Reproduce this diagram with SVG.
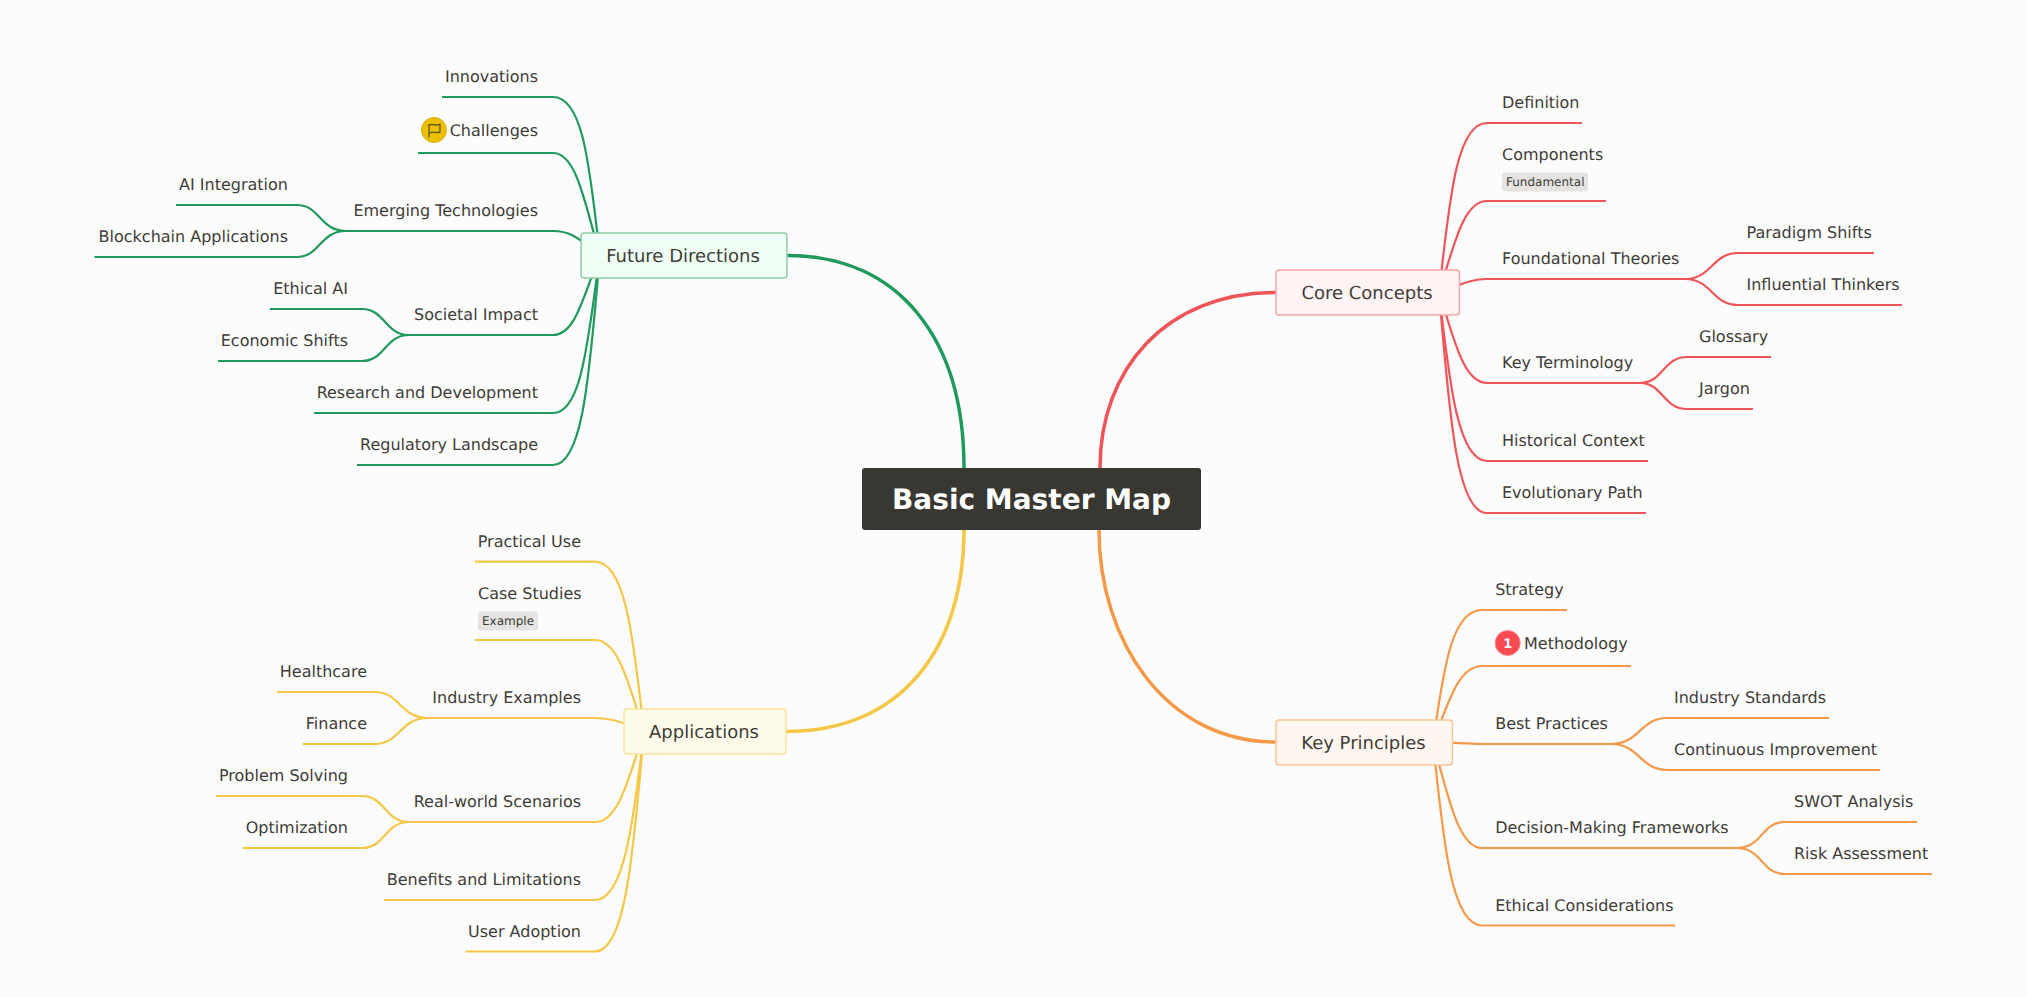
<svg xmlns="http://www.w3.org/2000/svg" width="2027" height="997" viewBox="0 0 2027 997">
<style>
text{font-family:"DejaVu Sans",sans-serif;font-size:16px;fill:#3f3d38;opacity:.999;text-rendering:geometricPrecision}
.e{text-anchor:end}
.b{font-size:18px;text-anchor:middle}
.t{font-size:12px}
.tag{fill:#e5e4e2}
.c{fill:none;stroke-width:2.2}
.m{fill:none;stroke-width:3.5}
.g{stroke:#1f9a5c}.r{stroke:#ef5558}.o{stroke:#f59848}.y{stroke:#f5c746}
.box{stroke-width:1.5}
</style>
<rect width="2027" height="997" fill="#fcfcfc"/>
<g id="connectors">
<path class="m g" d="M787 255.500C900 255.500 964 340 964 468"/>
<path class="m r" d="M1276 292.500C1165 292.500 1100 370 1100 468"/>
<path class="m o" d="M1276 742C1165 742 1099 640 1099 530"/>
<path class="m y" d="M786 731.500C900 731.500 964 650 964 530"/>
<path class="c g" d="M442 97H553C585 97 590 176 600 255"/>
<path class="c g" d="M418 153H553C577 153 585 205 600 255"/>
<path class="c g" d="M343 231H553C568 231 575 235 600 255"/>
<path class="c g" d="M405 335H553C575 335 582 300 600 255"/>
<path class="c g" d="M314 413H553C583 413 588 335 600 255"/>
<path class="c g" d="M357 465H553C585 465 590 360 600 255"/>
<path class="c g" d="M176 205H297C320 205 320 231 346 231"/>
<path class="c g" d="M94.500 257H297C320 257 320 231 346 231"/>
<path class="c g" d="M270 309H362C385 309 385 335 409 335"/>
<path class="c g" d="M218 361H362C385 361 385 335 409 335"/>
<path class="c r" d="M1582 123H1487C1455 123 1449 208 1439 292.500"/>
<path class="c r" d="M1606 201H1487C1463 201 1454 246 1439 292.500"/>
<path class="c r" d="M1687 279H1487C1472 279 1465 283 1439 292.500"/>
<path class="c r" d="M1642 383H1487C1463 383 1454 338 1439 292.500"/>
<path class="c r" d="M1648 461H1487C1457 461 1449 377 1439 292.500"/>
<path class="c r" d="M1646 513H1487C1455 513 1449 403 1439 292.500"/>
<path class="c r" d="M1874 253H1738C1712 253 1712 279 1685 279"/>
<path class="c r" d="M1902 305H1738C1712 305 1712 279 1685 279"/>
<path class="c r" d="M1771 357H1687C1663 357 1663 383 1640 383"/>
<path class="c r" d="M1753 409H1687C1663 409 1663 383 1640 383"/>
<path class="c o" d="M1567 610H1482C1450 610 1443 676 1433 742"/>
<path class="c o" d="M1631 666H1482C1458 666 1448 704 1433 742"/>
<path class="c o" d="M1613 744H1482C1467 744 1460 743 1433 742"/>
<path class="c o" d="M1739 848H1482C1458 848 1448 795 1433 742"/>
<path class="c o" d="M1675 925.500H1482C1450 925.500 1443 834 1433 742"/>
<path class="c o" d="M1829 718H1667C1640 718 1640 744 1611 744"/>
<path class="c o" d="M1880 770H1667C1640 770 1640 744 1611 744"/>
<path class="c o" d="M1917 822H1784C1762 822 1762 848 1737 848"/>
<path class="c o" d="M1932 874H1784C1762 874 1762 848 1737 848"/>
<path class="c y" d="M475 561.700H595C627 561.700 634 647 644 731.500"/>
<path class="c y" d="M475 640H595C619 640 629 686 644 731.500"/>
<path class="c y" d="M426 718H595C610 718 620 721 644 731.500"/>
<path class="c y" d="M407 822H595C619 822 629 777 644 731.500"/>
<path class="c y" d="M384 900H595C625 900 634 816 644 731.500"/>
<path class="c y" d="M465.500 951.500H595C627 951.500 634 842 644 731.500"/>
<path class="c y" d="M277 692H375C400 692 400 718 428 718"/>
<path class="c y" d="M303 744H375C400 744 400 718 428 718"/>
<path class="c y" d="M216 796H362C385 796 385 822 409 822"/>
<path class="c y" d="M243 848H362C385 848 385 822 409 822"/>
</g>
<g id="root"><rect x="862" y="468" width="339" height="62" rx="3" fill="#393731"/><text x="1031.500" y="509" text-anchor="middle" style="font-size:28px;font-weight:700;fill:#fff">Basic Master Map</text></g>
<g id="future"><rect class="box" x="581" y="233" width="206" height="45" rx="3" fill="#effff5" stroke="#8ccba7"/><text class="b" x="683" y="262">Future Directions</text></g>
<g id="core"><rect class="box" x="1276" y="270" width="183.500" height="45" rx="3" fill="#fff3f3" stroke="#f9a5a7"/><text class="b" x="1367" y="299">Core Concepts</text></g>
<g id="key"><rect class="box" x="1276" y="720" width="176.500" height="45" rx="3" fill="#fff7ef" stroke="#fbc597"/><text class="b" x="1363.500" y="749">Key Principles</text></g>
<g id="apps"><rect class="box" x="624" y="709" width="162" height="45" rx="3" fill="#fffbea" stroke="#fbe39c"/><text class="b" x="704" y="738">Applications</text></g>
<g id="innovations"><text class="e" x="538" y="82">Innovations</text></g>
<g id="challenges"><circle cx="434" cy="130" r="12.500" fill="#ecc000" stroke="#d6ae12"/><path d="M429 137.500V125C432 123.500 436 126 440 124.500V132C436 133.500 432 131 429 133" fill="none" stroke="#6a5e1c" stroke-width="1.400"/><text class="e" x="538" y="136">Challenges</text></g>
<g id="emerging"><text class="e" x="538" y="216">Emerging Technologies</text></g>
<g id="ai"><text class="e" x="288" y="190">AI Integration</text></g>
<g id="blockchain"><text class="e" x="288" y="242">Blockchain Applications</text></g>
<g id="societal"><text class="e" x="538" y="320">Societal Impact</text></g>
<g id="ethical"><text class="e" x="348" y="294">Ethical AI</text></g>
<g id="economic"><text class="e" x="348" y="346">Economic Shifts</text></g>
<g id="research"><text class="e" x="538" y="398">Research and Development</text></g>
<g id="regulatory"><text class="e" x="538" y="450">Regulatory Landscape</text></g>
<g id="definition"><text x="1502" y="108">Definition</text></g>
<g id="components"><text x="1502" y="160">Components</text><rect class="tag" x="1502" y="172.500" width="86" height="19" rx="3"/><text class="t" x="1506" y="186">Fundamental</text></g>
<g id="foundational"><text x="1502" y="264">Foundational Theories</text></g>
<g id="paradigm"><text x="1746.500" y="238">Paradigm Shifts</text></g>
<g id="influential"><text x="1746.500" y="290">Influential Thinkers</text></g>
<g id="terminology"><text x="1502" y="368">Key Terminology</text></g>
<g id="glossary"><text x="1699" y="342">Glossary</text></g>
<g id="jargon"><text x="1699" y="394">Jargon</text></g>
<g id="historical"><text x="1502" y="446">Historical Context</text></g>
<g id="evolutionary"><text x="1502" y="498">Evolutionary Path</text></g>
<g id="strategy"><text x="1495.200" y="595">Strategy</text></g>
<g id="methodology"><circle cx="1507.700" cy="643" r="12.500" fill="#fa4a52" stroke="#f98a8e"/><text x="1507.700" y="648" text-anchor="middle" style="font-size:13px;font-weight:700;fill:#fff">1</text><text x="1524" y="649">Methodology</text></g>
<g id="best"><text x="1495.200" y="729">Best Practices</text></g>
<g id="standards"><text x="1674" y="703">Industry Standards</text></g>
<g id="continuous"><text x="1674" y="755">Continuous Improvement</text></g>
<g id="decision"><text x="1495.200" y="833">Decision-Making Frameworks</text></g>
<g id="swot"><text x="1794" y="807">SWOT Analysis</text></g>
<g id="risk"><text x="1794" y="859">Risk Assessment</text></g>
<g id="considerations"><text x="1495.200" y="910.500">Ethical Considerations</text></g>
<g id="practical"><text class="e" x="581" y="547">Practical Use</text></g>
<g id="case"><text x="478" y="599">Case Studies</text><rect class="tag" x="478" y="611.500" width="60" height="19" rx="3"/><text class="t" x="482" y="625">Example</text></g>
<g id="industry"><text class="e" x="581" y="703">Industry Examples</text></g>
<g id="healthcare"><text class="e" x="367" y="677">Healthcare</text></g>
<g id="finance"><text class="e" x="367" y="729">Finance</text></g>
<g id="scenarios"><text class="e" x="581" y="807">Real-world Scenarios</text></g>
<g id="problem"><text class="e" x="348" y="781">Problem Solving</text></g>
<g id="optimization"><text class="e" x="348" y="833">Optimization</text></g>
<g id="benefits"><text class="e" x="581" y="885">Benefits and Limitations</text></g>
<g id="adoption"><text class="e" x="581" y="937">User Adoption</text></g>
</svg>
